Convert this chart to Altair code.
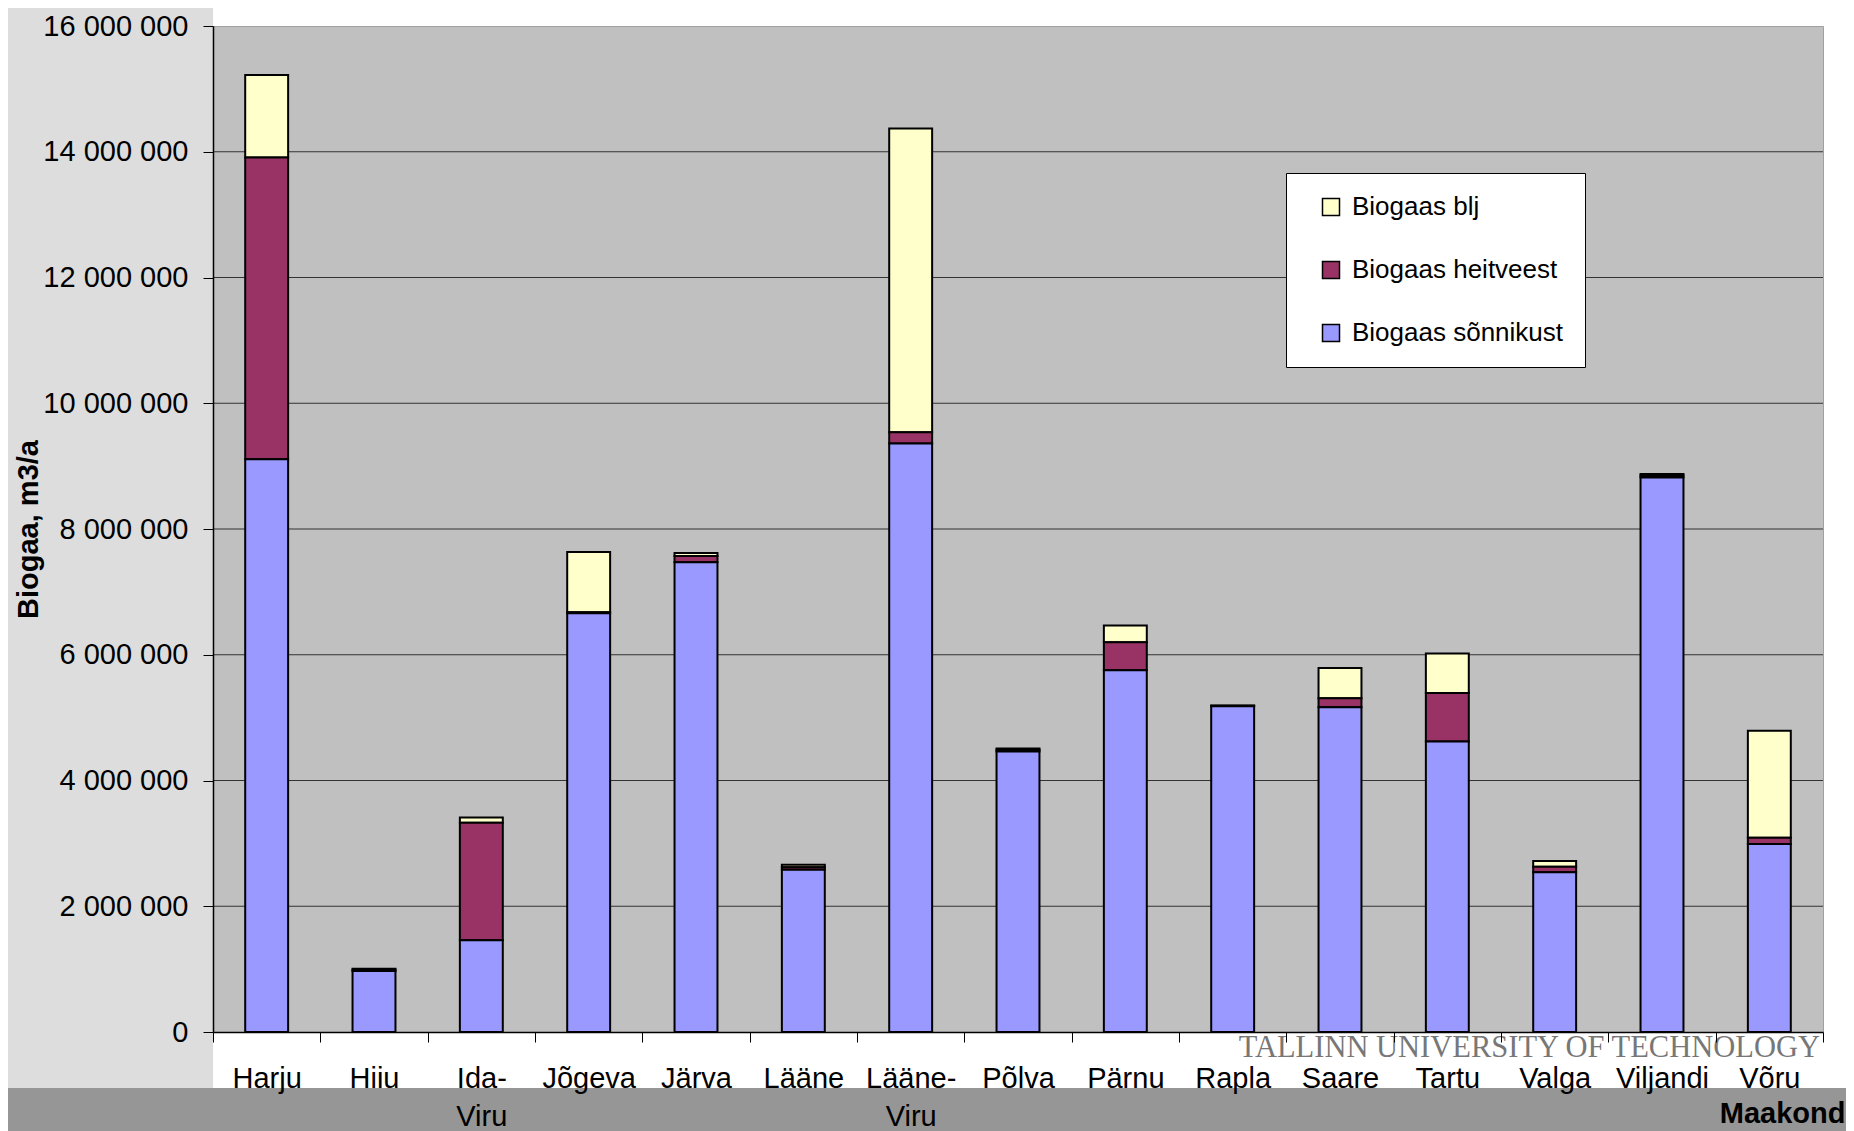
import altair as alt
import pandas as pd

categories = ["Harju", "Hiiu", "Ida-Viru", "Jõgeva", "Järva", "Lääne", "Lääne-Viru",
              "Põlva", "Pärnu", "Rapla", "Saare", "Tartu", "Valga", "Viljandi", "Võru"]
sonnik = [9110000, 970000, 1460000, 6660000, 7470000, 2580000, 9360000,
          4460000, 5755000, 5180000, 5165000, 4620000, 2540000, 8820000, 2990000]
heitvesi = [4800000, 20000, 1870000, 15000, 100000, 40000, 180000,
            30000, 445000, 8000, 145000, 770000, 90000, 30000, 100000]
blj = [1310000, 15000, 80000, 960000, 50000, 40000, 4830000,
       20000, 265000, 3000, 480000, 630000, 90000, 25000, 1700000]

series = ["Biogaas blj", "Biogaas heitveest", "Biogaas sõnnikust"]
colors = ["#FFFFCC", "#993366", "#9999FF"]
stack_rank = [2, 1, 0]
y_ticks = [0, 2000000, 4000000, 6000000, 8000000, 10000000, 12000000, 14000000, 16000000]
grid_values = y_ticks[1:-1]

rows = []
for i, c in enumerate(categories):
    for s, vals, r in zip(series, [blj, heitvesi, sonnik], stack_rank):
        rows.append({"maakond": c, "seeria": s, "kogus": vals[i], "jrk": r})
df = pd.DataFrame(rows)

FONT = "Liberation Sans"
W, H = 1610, 1006
PAD = {"left": 205, "top": 18, "right": 23, "bottom": 99}

x_enc = alt.X(
    "maakond:N", sort=categories,
    scale=alt.Scale(paddingInner=0, paddingOuter=0),
    axis=alt.Axis(
        labelAngle=0, labelFont=FONT, labelFontSize=29, labelColor="black",
        labelPadding=22, labelLineHeight=38,
        labelExpr="indexof(datum.label, '-') > 0 ? [substring(datum.label, 0, indexof(datum.label, '-') + 1), substring(datum.label, indexof(datum.label, '-') + 1)] : datum.label",
        tickSize=10, tickColor="black", tickBand="extent",
        domainColor="black", domainWidth=1.5, grid=False,
        title="Maakond", titleFont=FONT, titleFontSize=29, titleFontWeight="bold",
        titleColor="black", titleX=1632, titleY=90, titleAlign="right",
        titleBaseline="alphabetic", zindex=1,
    ),
)

y_axis = alt.Axis(
    values=y_ticks,
    labelExpr="replace(replace(format(datum.value, ','), ',', ' '), ',', ' ')",
    labelFont=FONT, labelFontSize=29, labelColor="black", labelPadding=15,
    tickSize=10, tickColor="black", domainColor="black", domainWidth=1.5,
    grid=False, labelOverlap=False, labelFlush=False,
    title="Biogaa, m3/a", titleFont=FONT, titleFontSize=29, titleFontWeight="bold",
    titleColor="black", titleAngle=270, titleX=-185, titleY=503,
    titleAlign="center", titleBaseline="middle", zindex=1,
)
y_scale = alt.Scale(domain=[0, 16000000], nice=False)

one = pd.DataFrame({"d": [0]})

bg_left = alt.Chart(one).mark_rect(fill="#DDDDDD").encode(
    x=alt.value(-205), x2=alt.value(0), y=alt.value(-18), y2=alt.value(1062))
bg_band = alt.Chart(one).mark_rect(fill="#969696").encode(
    x=alt.value(-205), x2=alt.value(W + 23), y=alt.value(1062), y2=alt.value(H + 99))

grid = alt.Chart(pd.DataFrame({"kogus": grid_values})).mark_rule(
    color="#333333", strokeWidth=1).encode(
    y=alt.Y("kogus:Q", scale=y_scale, axis=y_axis, title="Biogaa, m3/a"))

bars = alt.Chart(df).mark_bar(
    stroke="black", strokeWidth=2, width=alt.RelativeBandSize(0.4)).encode(
    x=x_enc,
    y=alt.Y("kogus:Q", stack="zero", scale=y_scale, axis=y_axis, title="Biogaa, m3/a"),
    color=alt.Color(
        "seeria:N", title=None,
        scale=alt.Scale(domain=series, range=colors),
        legend=alt.Legend(
            orient="none", legendX=1073, legendY=147, padding=21,
            fillColor="white", strokeColor="black",
            symbolType="square", symbolSize=289, symbolStrokeColor="black",
            symbolStrokeWidth=1.5, symbolOffset=11, symbolOpacity=1,
            labelFont=FONT, labelFontSize=26, labelColor="black", labelOffset=8,
            labelLimit=0, rowPadding=37,
        ),
    ),
    order=alt.Order("jrk:Q", sort="ascending"),
)

logo = alt.Chart(one).mark_text(
    text="TALLINN UNIVERSITY OF TECHNOLOGY", font="Liberation Serif", fontSize=30.5,
    color="#777777", align="right", baseline="alphabetic").encode(
    x=alt.value(1607), y=alt.value(1031))

chart = alt.layer(bg_left, bg_band, grid, bars, logo).properties(
    width=W, height=H, padding=PAD,
    autosize=alt.AutoSizeParams(type="none"),
    background="white",
).configure_view(fill="#C0C0C0", stroke="#A0A0A0", strokeWidth=1)

chart.save("out.html", embed_options={"renderer": "svg", "actions": False})
